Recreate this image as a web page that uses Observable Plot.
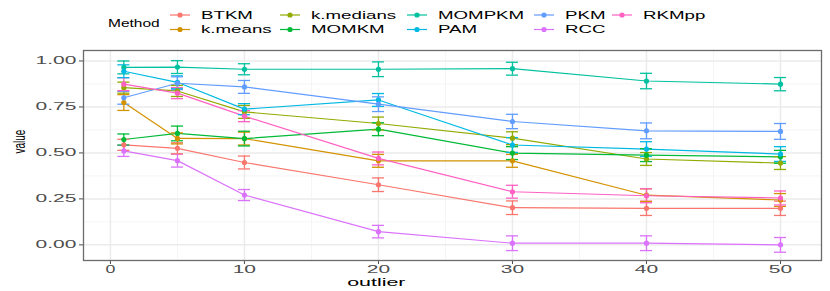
<!DOCTYPE html>
<html>
<head>
<meta charset="utf-8">
<script src="https://cdn.jsdelivr.net/npm/d3@7"></script>
<script src="https://cdn.jsdelivr.net/npm/@observablehq/plot@0.6"></script>
<style>
  html, body { margin: 0; padding: 0; background: #fff; }
  #wrap { width: 830px; height: 291px; overflow: hidden; font-family: "Liberation Sans", Arial, sans-serif; }
  #legend { display: block; }
  #chart svg { display: block; }
</style>
</head>
<body>
<div id="wrap">
  <svg id="legend" width="830" height="45"></svg>
  <div id="chart"></div>
</div>
<script>
// ---- data ----
const outliers = [1, 5, 10, 20, 30, 40, 50];
const methods = ["BTKM", "k.means", "k.medians", "MOMKM", "MOMPKM", "PAM", "PKM", "RCC", "RKMpp"];
const colors  = ["#F8766D", "#D39200", "#93AA00", "#00BA38", "#00C19F", "#00B9E3", "#619CFF", "#DB72FB", "#FF61C3"];

const BTKM     = [0.544, 0.525, 0.448, 0.327, 0.202, 0.199, 0.199];
const kmeans   = [0.774, 0.579, 0.578, 0.457, 0.457, 0.270, 0.244];
const kmedians = [0.855, 0.837, 0.723, 0.660, 0.580, 0.467, 0.445];
const MOMKM    = [0.573, 0.606, 0.578, 0.629, 0.499, 0.488, 0.479];
const MOMPKM   = [0.965, 0.967, 0.955, 0.955, 0.958, 0.891, 0.874];
const PAM      = [0.944, 0.884, 0.738, 0.788, 0.543, 0.521, 0.494];
const PKM      = [0.800, 0.879, 0.859, 0.765, 0.671, 0.620, 0.617];
const RCC      = [0.511, 0.458, 0.271, 0.072, 0.009, 0.009, 0.000];
const RKMpp    = [0.874, 0.825, 0.700, 0.470, 0.289, 0.267, 0.255];

// half-widths of the error bars
const BTKM_err     = [0.030, 0.030, 0.035, 0.037, 0.037, 0.039, 0.039];
const kmeans_err   = [0.043, 0.030, 0.035, 0.035, 0.035, 0.035, 0.035];
const kmedians_err = [0.030, 0.030, 0.035, 0.035, 0.035, 0.035, 0.035];
const MOMKM_err    = [0.030, 0.040, 0.040, 0.035, 0.035, 0.035, 0.035];
const MOMPKM_err   = [0.035, 0.035, 0.030, 0.040, 0.035, 0.042, 0.036];
const PAM_err      = [0.035, 0.035, 0.030, 0.035, 0.040, 0.040, 0.040];
const PKM_err      = [0.035, 0.035, 0.035, 0.040, 0.039, 0.043, 0.043];
const RCC_err      = [0.030, 0.035, 0.030, 0.034, 0.040, 0.040, 0.040];
const RKMpp_err    = [0.035, 0.030, 0.030, 0.035, 0.035, 0.038, 0.038];

const xTicks = [0, 10, 20, 30, 40, 50];
const xMinor = [5, 15, 25, 35, 45];
const yTicks = [0, 0.25, 0.5, 0.75, 1];
const yMinor = [0.125, 0.375, 0.625, 0.875];

const values = [BTKM, kmeans, kmedians, MOMKM, MOMPKM, PAM, PKM, RCC, RKMpp];
const errs = [BTKM_err, kmeans_err, kmedians_err, MOMKM_err, MOMPKM_err, PAM_err, PKM_err, RCC_err, RKMpp_err];

const data = methods.flatMap((m, i) => outliers.map((x, j) => ({
  method: m, outlier: x, value: values[i][j], err: errs[i][j]
})));

// ---- chart ----
const capHalf = 0.45;
const chart = Plot.plot({
  width: 830,
  height: 246,
  marginLeft: 83,
  marginRight: 9,
  marginTop: 5,
  marginBottom: 31,
  style: { background: "#fff", fontFamily: "'Liberation Sans', Arial, sans-serif", fontSize: "10.5px", color: "#4d4d4d", overflow: "visible" },
  x: { domain: [-2.01, 53.06], ticks: xTicks, tickSize: 4, tickPadding: 1, label: null },
  y: { domain: [-0.085, 1.057], ticks: yTicks, tickFormat: d3.format(".2f"), tickSize: 4, tickPadding: 3, label: null },
  color: { domain: methods, range: colors },
  marks: [
    Plot.ruleX(xMinor, { stroke: "#f2f2f2", strokeWidth: 0.8 }),
    Plot.ruleY(yMinor, { stroke: "#f2f2f2", strokeWidth: 0.8 }),
    Plot.ruleX(xTicks, { stroke: "#ebebeb", strokeWidth: 1.5 }),
    Plot.ruleY(yTicks, { stroke: "#ebebeb", strokeWidth: 1.5 }),
    Plot.line(data, { x: "outlier", y: "value", stroke: "method", strokeWidth: 1.2 }),
    Plot.ruleX(data, { x: "outlier", y1: d => d.value - d.err, y2: d => d.value + d.err, stroke: "method", strokeWidth: 1.3 }),
    Plot.ruleY(data, { y: d => d.value + d.err, x1: d => d.outlier - capHalf, x2: d => d.outlier + capHalf, stroke: "method", strokeWidth: 1.3 }),
    Plot.ruleY(data, { y: d => d.value - d.err, x1: d => d.outlier - capHalf, x2: d => d.outlier + capHalf, stroke: "method", strokeWidth: 1.3 }),
    Plot.dot(data, { x: "outlier", y: "value", fill: "method", r: 2.6 }),
    Plot.frame({ stroke: "#6b6b6b", strokeWidth: 1.3 }),
    Plot.text(["outlier"], { frameAnchor: "bottom", dx: -76, dy: 25, fill: "#000", fontSize: 10.7, text: d => d }),
    Plot.text(["value"], { frameAnchor: "left", dx: -64, dy: -2, rotate: -90, fill: "#000", fontSize: 10, text: d => d })
  ]
});
document.getElementById("chart").appendChild(chart);

// horizontally stretch each text around its anchor (the reference was rendered with a wide aspect)
function stretch(root, sx) {
  const ns = "http://www.w3.org/2000/svg";
  Array.from(root.querySelectorAll("text")).forEach(t => {
    const g = document.createElementNS(ns, "g");
    t.parentNode.insertBefore(g, t);
    g.appendChild(t);
    const bb = g.getBBox();
    const anchor = getComputedStyle(t).textAnchor;
    let ax, s = sx;
    if (bb.height > bb.width * 1.5) { ax = bb.x + bb.width / 2; s = 1.7; }  // rotated text
    else if (anchor === "end") ax = bb.x + bb.width;
    else if (anchor === "start") ax = bb.x;
    else ax = bb.x + bb.width / 2;
    g.setAttribute("transform", `translate(${ax},0) scale(${s},1) translate(${-ax},0)`);
  });
}
stretch(chart, 2.0);

// ---- legend ----
const lg = d3.select("#legend");
const legSx = 1.7;
const legCols = [170, 280, 407, 534, 612];
const legRows = [15, 29.5];
lg.append("text").attr("transform", `translate(108,23) scale(1.55,1)`)
  .attr("dy", "0.35em").attr("font-size", 10).attr("fill", "#000")
  .attr("font-family", "'Liberation Sans', Arial, sans-serif").text("Method");
methods.forEach((m, i) => {
  const kx = legCols[Math.floor(i / 2)];
  const y = legRows[i % 2];
  lg.append("line").attr("x1", kx).attr("x2", kx + 20).attr("y1", y).attr("y2", y)
    .attr("stroke", colors[i]).attr("stroke-width", 1.2);
  lg.append("circle").attr("cx", kx + 10).attr("cy", y).attr("r", 2.6).attr("fill", colors[i]);
  lg.append("text").attr("transform", `translate(${kx + 31},${y}) scale(${legSx},1)`)
    .attr("dy", "0.35em").attr("font-size", 11).attr("fill", "#000")
    .attr("font-family", "'Liberation Sans', Arial, sans-serif").text(m);
});
</script>
</body>
</html>
